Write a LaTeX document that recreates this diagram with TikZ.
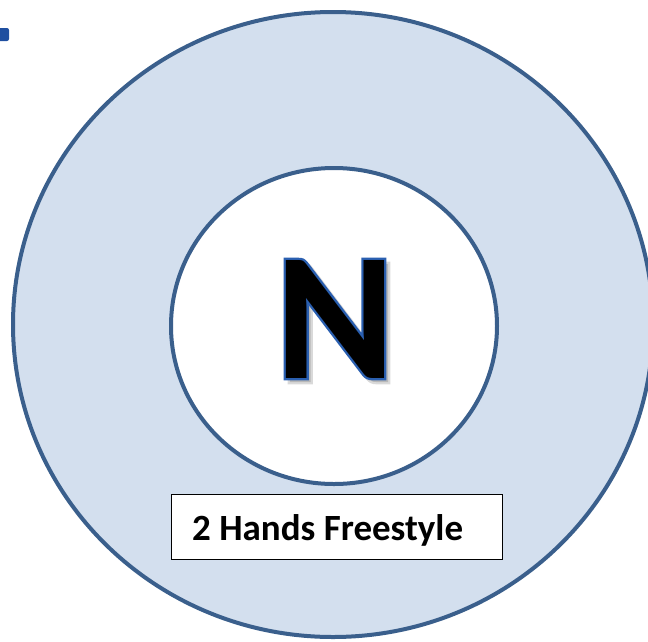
\documentclass[tikz,border=0pt]{standalone}
\usepackage{fontspec}
\newfontfamily\carlito{Carlito}
\newfontface\carlitoheavy[RawFeature={embolden=2.5}]{Carlito Bold}
\definecolor{ringblue}{HTML}{3A5F8C}
\definecolor{ringfill}{HTML}{D3DFEE}
\definecolor{markblue}{HTML}{1F4FA0}
\definecolor{nblue}{HTML}{2A5FB0}
\tikzset{
  ring/.style={draw=ringblue, line width=4pt},
  labelbox/.style={draw=black, line width=1.4pt, fill=white},
  labeltext/.style={font=\carlito\bfseries\fontsize{37}{44}\selectfont, inner sep=0pt, anchor=base west},
  bigletter/.style={font=\carlito\bfseries\fontsize{182}{200}\selectfont, inner sep=0pt, anchor=base},
  bigoutline/.style={font=\carlitoheavy\fontsize{182}{200}\selectfont, inner sep=0pt, anchor=base},
}
\begin{document}
\begin{tikzpicture}[x=1pt,y=-1pt]
\useasboundingbox (0,0) rectangle (648,641);
% small mark at top-left
\fill[markblue, rounded corners=2pt] (-3,28) rectangle (9,41);
% outer ring
\draw[ring, fill=ringfill] (333,324.5) ellipse [x radius=320, y radius=312.5];
% inner circle
\draw[ring, fill=white] (334,326) ellipse [x radius=163, y radius=158];
% letter shadow
\node[bigoutline, text=black, opacity=0.15] (nshadow) at (339,382) {N};
% letter outline
\node[bigoutline, text=nblue] (nrim) at (335,378) {N};
% letter
\node[bigletter, text=black] (letter) at (335,378) {N};
% label box
\node[labelbox, minimum width=331pt, minimum height=65pt, inner sep=0pt, anchor=north west] (box) at (171,494) {};
\node[labeltext] (label) at (192,540) {2 Hands Freestyle};
\end{tikzpicture}
\end{document}
